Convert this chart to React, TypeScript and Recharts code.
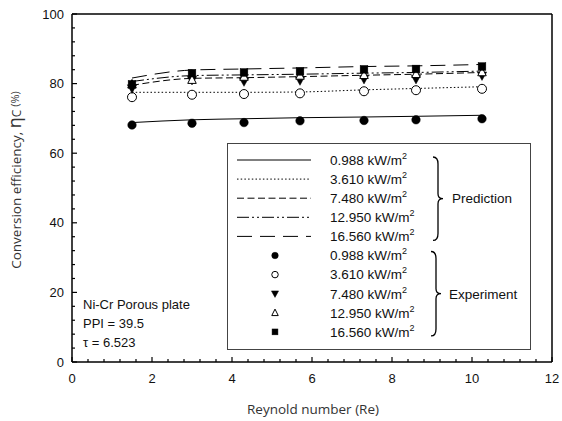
import React from 'react';
import {
  ComposedChart,
  Line,
  Scatter,
  XAxis,
  YAxis,
  Legend,
  Customized,
} from 'recharts';

// ---------- data ----------
const reynolds = [1.5, 3.0, 4.3, 5.7, 7.3, 8.6, 10.25];

const heatFluxLabels = ['0.988', '3.610', '7.480', '12.950', '16.560'];

const pred0988 = [68.8, 69.6, 69.9, 70.2, 70.4, 70.6, 70.9];
const pred3610 = [77.5, 77.5, 77.5, 77.6, 78.2, 78.6, 79.1];
const pred7480 = [79.5, 81.5, 81.7, 82.0, 82.4, 82.7, 83.2];
const pred12950 = [80.6, 82.3, 82.5, 82.7, 83.0, 83.2, 83.6];
const pred16560 = [81.6, 83.9, 84.2, 84.5, 84.9, 85.1, 85.5];

const exp0988 = [68.1, 68.6, 68.8, 69.3, 69.4, 69.6, 69.9];
const exp3610 = [76.1, 76.8, 77.0, 77.2, 77.8, 78.1, 78.5];
const exp7480 = [78.6, 81.0, 80.6, 80.9, 81.3, 81.3, 82.3];
const exp12950 = [79.8, 81.1, 82.0, 82.3, 82.5, 82.8, 83.3];
const exp16560 = [79.8, 83.0, 83.2, 83.5, 84.1, 84.2, 84.9];

const xMajorTicks = [0, 2, 4, 6, 8, 10, 12];
const yMajorTicks = [0, 20, 40, 60, 80, 100];
const xMinorStep = 0.4;
const yMinorStep = 4;

const annotationLines = ['Ni-Cr Porous plate', 'PPI = 39.5', 'τ = 6.523'];

// ---------- layout ----------
const W = 562;
const H = 421;
const PL = 72;
const PR = 552;
const PT = 14;
const PB = 362;
const TICK_FONT = '"Liberation Sans", Arial, sans-serif';
const LABEL_FONT = '"Open Sans", "Noto Sans", sans-serif';

const xAllTicks = Array.from({ length: Math.round(12 / xMinorStep) + 1 }, (_, i) =>
  Math.round(i * xMinorStep * 1000) / 1000
);
const yAllTicks = Array.from({ length: Math.round(100 / yMinorStep) + 1 }, (_, i) => i * yMinorStep);

const isMajorX = (v: number) => xMajorTicks.some((t) => Math.abs(t - v) < 1e-6);
const isMajorY = (v: number) => yMajorTicks.some((t) => Math.abs(t - v) < 1e-6);

const toPts = (ys: number[]) => reynolds.map((x, i) => ({ x, y: ys[i] }));

const predSeries = [
  { key: 'p0', data: toPts(pred0988), dash: undefined as string | undefined },
  { key: 'p1', data: toPts(pred3610), dash: '1.5 2.2' },
  { key: 'p2', data: toPts(pred7480), dash: '7 3.5' },
  { key: 'p3', data: toPts(pred12950), dash: '12 3 2 3 2 3' },
  { key: 'p4', data: toPts(pred16560), dash: '15 8' },
];

type MarkerKind = 'fcircle' | 'ocircle' | 'dtri' | 'otri' | 'square';
const expSeries: { key: string; data: { x: number; y: number }[]; kind: MarkerKind }[] = [
  { key: 'e0', data: toPts(exp0988), kind: 'fcircle' },
  { key: 'e1', data: toPts(exp3610), kind: 'ocircle' },
  { key: 'e2', data: toPts(exp7480), kind: 'dtri' },
  { key: 'e3', data: toPts(exp12950), kind: 'otri' },
  { key: 'e4', data: toPts(exp16560), kind: 'square' },
];

const Marker = ({ kind, cx, cy, s }: { kind: MarkerKind; cx: number; cy: number; s: number }) => {
  switch (kind) {
    case 'fcircle':
      return <circle cx={cx} cy={cy} r={s * 0.5} fill="#000" stroke="#000" strokeWidth={0.5} />;
    case 'ocircle':
      return <circle cx={cx} cy={cy} r={s * 0.5} fill="#fff" stroke="#000" strokeWidth={1} />;
    case 'dtri': {
      const h = s * 0.95;
      return (
        <polygon
          points={`${cx - s * 0.55},${cy - h * 0.45} ${cx + s * 0.55},${cy - h * 0.45} ${cx},${cy + h * 0.6}`}
          fill="#000"
          stroke="#000"
          strokeWidth={0.5}
        />
      );
    }
    case 'otri': {
      const h = s * 0.95;
      return (
        <polygon
          points={`${cx - s * 0.5},${cy + h * 0.45} ${cx + s * 0.5},${cy + h * 0.45} ${cx},${cy - h * 0.6}`}
          fill="#fff"
          stroke="#000"
          strokeWidth={1}
        />
      );
    }
    case 'square':
      return <rect x={cx - s * 0.45} y={cy - s * 0.45} width={s * 0.9} height={s * 0.9} fill="#000" stroke="#000" strokeWidth={0.5} />;
  }
  return null;
};

// ---------- ticks ----------
const BottomTick = (props: any) => {
  const { x, payload } = props;
  const v = payload.value;
  const major = isMajorX(v);
  return (
    <g>
      <line x1={x} x2={x} y1={PB} y2={PB - (major ? 5 : 3)} stroke="#000" strokeWidth={1.2} />
      {major && (
        <text x={x} y={PB + 21} textAnchor="middle" fontSize={13} fontFamily={TICK_FONT} fill="#111">
          {v}
        </text>
      )}
    </g>
  );
};

const TopTick = (props: any) => {
  const { x, payload } = props;
  const major = isMajorX(payload.value);
  return <line x1={x} x2={x} y1={PT} y2={PT + (major ? 5 : 3)} stroke="#000" strokeWidth={1.2} />;
};

const LeftTick = (props: any) => {
  const { y, payload } = props;
  const v = payload.value;
  const major = isMajorY(v);
  return (
    <g>
      <line x1={PL} x2={PL + (major ? 5 : 3)} y1={y} y2={y} stroke="#000" strokeWidth={1.2} />
      {major && (
        <text x={PL - 8} y={y + 4.6} textAnchor="end" fontSize={13} fontFamily={TICK_FONT} fill="#111">
          {v}
        </text>
      )}
    </g>
  );
};

const RightTick = (props: any) => {
  const { y, payload } = props;
  const major = isMajorY(payload.value);
  return <line x1={PR} x2={PR - (major ? 5 : 3)} y1={y} y2={y} stroke="#000" strokeWidth={1.2} />;
};

// ---------- legend ----------
const LEG_W = 304;
const LEG_H = 207;
const ROW0 = 17;
const ROW_H = 19.1;

const Brace = ({ x, y0, y1 }: { x: number; y0: number; y1: number }) => {
  const ym = (y0 + y1) / 2;
  const d = `M ${x} ${y0} Q ${x + 5} ${y0} ${x + 5} ${y0 + 7} L ${x + 5} ${ym - 5} Q ${x + 5} ${ym} ${x + 10} ${ym} Q ${x + 5} ${ym} ${x + 5} ${ym + 5} L ${x + 5} ${y1 - 7} Q ${x + 5} ${y1} ${x} ${y1}`;
  return <path d={d} fill="none" stroke="#000" strokeWidth={1.3} />;
};

const LegendLabel = ({ y, text }: { y: number; text: string }) => (
  <text x={103} y={y + 4.8} fontSize={13.5} fontFamily={TICK_FONT} fill="#111">
    {text} kW/m
    <tspan fontSize={9} dy={-6}>2</tspan>
  </text>
);

const renderLegend = () => (
  <svg width={LEG_W} height={LEG_H} style={{ display: 'block' }}>
    <rect x={0.5} y={0.5} width={LEG_W - 1} height={LEG_H - 1} fill="#fff" stroke="#444" strokeWidth={1} />
    {predSeries.map((s, i) => {
      const y = ROW0 + i * ROW_H;
      return (
        <g key={s.key}>
          <line x1={10} x2={84} y1={y} y2={y} stroke="#000" strokeWidth={1} strokeDasharray={s.dash} />
          <LegendLabel y={y} text={heatFluxLabels[i]} />
        </g>
      );
    })}
    {expSeries.map((s, i) => {
      const y = ROW0 + (i + 5) * ROW_H;
      return (
        <g key={s.key}>
          <Marker kind={s.kind} cx={48} cy={y} s={6.5} />
          <LegendLabel y={y} text={heatFluxLabels[i]} />
        </g>
      );
    })}
    <Brace x={206} y0={ROW0 - 3} y1={ROW0 + 4 * ROW_H + 4} />
    <Brace x={204} y0={ROW0 + 5 * ROW_H - 4} y1={ROW0 + 9 * ROW_H + 4} />
    <text x={225} y={ROW0 + 2 * ROW_H + 4.8} fontSize={13.5} fontFamily={TICK_FONT} fill="#111">
      Prediction
    </text>
    <text x={222} y={ROW0 + 7 * ROW_H + 4.8} fontSize={13.5} fontFamily={TICK_FONT} fill="#111">
      Experiment
    </text>
  </svg>
);

// ---------- annotations ----------
const Annotations = () => (
  <g>
    {annotationLines.map((t, i) => (
      <text key={t} x={83} y={308.7 + i * 19} fontSize={13} fontFamily={TICK_FONT} fill="#111">
        {t}
      </text>
    ))}
    <text
      x={0}
      y={0}
      transform={`translate(21, 180) rotate(-90)`}
      textAnchor="middle"
      fontSize={13.5}
      fontFamily={LABEL_FONT}
      fill="#333"
    >
      Conversion efficiency,{' '}
      <tspan fontSize={18}>η</tspan>
      <tspan fontSize={12}>C</tspan>
      <tspan fontSize={11} dy={-2}> (%)</tspan>
    </text>
    <text x={313} y={414} textAnchor="middle" fontSize={13.5} fontFamily={LABEL_FONT} fill="#333">
      Reynold number (Re)
    </text>
  </g>
);

export default function App() {
  return (
    <div style={{ position: 'absolute', left: 0, top: 0, width: W, height: H, background: '#fff' }}>
      <ComposedChart width={W} height={H} margin={{ top: PT - 1, right: W - PR - 1, bottom: H - PB - 1, left: PL - 1 }}>
        <XAxis
          xAxisId="b"
          type="number"
          dataKey="x"
          domain={[0, 12]}
          ticks={xAllTicks}
          interval={0}
          height={1}
          allowDataOverflow
          axisLine={{ stroke: '#000', strokeWidth: 1.5 }}
          tickLine={false}
          tick={<BottomTick />}
        />
        <XAxis
          xAxisId="t"
          orientation="top"
          type="number"
          dataKey="x"
          domain={[0, 12]}
          ticks={xAllTicks}
          interval={0}
          height={1}
          axisLine={{ stroke: '#000', strokeWidth: 1.5 }}
          tickLine={false}
          tick={<TopTick />}
        />
        <YAxis
          yAxisId="l"
          type="number"
          dataKey="y"
          domain={[0, 100]}
          ticks={yAllTicks}
          interval={0}
          width={1}
          allowDataOverflow
          axisLine={{ stroke: '#000', strokeWidth: 1.5 }}
          tickLine={false}
          tick={<LeftTick />}
        />
        <YAxis
          yAxisId="r"
          orientation="right"
          type="number"
          dataKey="y"
          domain={[0, 100]}
          ticks={yAllTicks}
          interval={0}
          width={1}
          axisLine={{ stroke: '#000', strokeWidth: 1.5 }}
          tickLine={false}
          tick={<RightTick />}
        />
        {predSeries.map((s) => (
          <Line
            key={s.key}
            xAxisId="b"
            yAxisId="l"
            data={s.data}
            dataKey="y"
            type="monotone"
            stroke="#000"
            strokeWidth={1}
            strokeDasharray={s.dash}
            dot={false}
            activeDot={false}
            isAnimationActive={false}
            legendType="none"
          />
        ))}
        {expSeries.map((s) => (
          <Scatter
            key={s.key}
            xAxisId="b"
            yAxisId="l"
            data={s.data}
            dataKey="y"
            isAnimationActive={false}
            shape={(p: any) => <Marker kind={s.kind} cx={p.cx} cy={p.cy} s={s.kind === 'ocircle' ? 9 : 8.5} />}
          />
        ))}
        <Customized component={Annotations} />
        <Legend
          layout="horizontal"
          verticalAlign="middle"
          align="center"
          content={renderLegend}
          wrapperStyle={{ position: 'absolute', left: 227, top: 143, width: LEG_W, height: LEG_H }}
        />
      </ComposedChart>
    </div>
  );
}
